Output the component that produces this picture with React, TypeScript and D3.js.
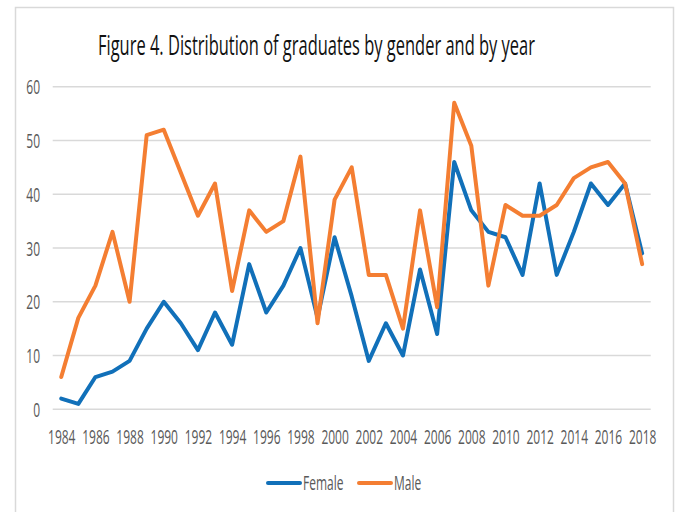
import { useRef, useEffect } from "react";
import * as d3 from "d3";

// Graduates per year
const years = [
  1984, 1985, 1986, 1987, 1988, 1989, 1990, 1991, 1992, 1993, 1994, 1995,
  1996, 1997, 1998, 1999, 2000, 2001, 2002, 2003, 2004, 2005, 2006, 2007,
  2008, 2009, 2010, 2011, 2012, 2013, 2014, 2015, 2016, 2017, 2018,
];
const female = [
  2, 1, 6, 7, 9, 15, 20, 16, 11, 18, 12, 27, 18, 23, 30, 17, 32, 21, 9, 16,
  10, 26, 14, 46, 37, 33, 32, 25, 42, 25, 33, 42, 38, 42, 29,
];
const male = [
  6, 17, 23, 33, 20, 51, 52, 44, 36, 42, 22, 37, 33, 35, 47, 16, 39, 45, 25,
  25, 15, 37, 19, 57, 49, 23, 38, 36, 36, 38, 43, 45, 46, 42, 27,
];
const yTicks = [0, 10, 20, 30, 40, 50, 60];
const xTickLabels = years.filter((y) => y % 2 === 0);

const series = [
  { name: "Female", values: female, color: "#1170B9" },
  { name: "Male", values: male, color: "#F47E32" },
];

const W = 676;
const H = 512;
const FONT = "'Open Sans', sans-serif";
// the source image is a squeezed Calibri look: narrow the glyphs, stretch them up
const SQUEEZE = "scale(0.8,1.3)";

export default function App() {
  const svgRef = useRef<SVGSVGElement>(null);

  useEffect(() => {
    if (!svgRef.current) return;
    const root = d3.select(svgRef.current);
    root.selectAll("*").remove();

    const plot = { left: 52.7, right: 650.7, top: 86.7, bottom: 409.3 };

    const x = d3.scalePoint<number>()
      .domain(years)
      .range([plot.left, plot.right])
      .padding(0.5);

    const y = d3.scaleLinear()
      .domain([0, 60])
      .range([plot.bottom, plot.top]);

    // outer frame
    root.append("rect")
      .attr("x", 15.5).attr("y", 7.5)
      .attr("width", 658).attr("height", 540)
      .attr("fill", "white")
      .attr("stroke", "#D9D9D9")
      .attr("stroke-width", 1.5);

    // title, squeezed to the width it has in the figure
    const title = root.append("text")
      .style("font-family", FONT)
      .style("font-size", "20px")
      .style("fill", "#111")
      .text("Figure 4. Distribution of graduates by gender and by year");
    const tw = (title.node() as SVGTextElement).getComputedTextLength() || 437;
    title.attr("transform", `translate(98,55) scale(${437 / tw},1.32)`);

    // gridlines
    root.append("g")
      .selectAll("line")
      .data(yTicks)
      .join("line")
      .attr("x1", plot.left).attr("x2", plot.right)
      .attr("y1", (d) => y(d)).attr("y2", (d) => y(d))
      .attr("stroke", "#D9D9D9")
      .attr("stroke-width", 1.6);

    // y axis labels
    const yAxis = root.append("g")
      .attr("transform", "translate(40,0)")
      .call(d3.axisLeft(y).tickValues(yTicks).tickSize(0).tickPadding(0));
    yAxis.select(".domain").remove();
    yAxis.selectAll("text")
      .attr("x", null).attr("y", null).attr("dy", null)
      .attr("transform", `translate(0,7) ${SQUEEZE}`)
      .attr("text-anchor", "end")
      .style("font-family", FONT)
      .style("font-size", "15px")
      .style("fill", "#595959");

    // x axis labels
    const xAxis = root.append("g")
      .call(d3.axisBottom(x).tickValues(xTickLabels).tickSize(0).tickPadding(0));
    xAxis.select(".domain").remove();
    xAxis.selectAll("text")
      .attr("y", null).attr("dy", null)
      .attr("transform", `translate(0,443.5) ${SQUEEZE}`)
      .style("font-family", FONT)
      .style("font-size", "15px")
      .style("fill", "#595959");

    // lines
    const line = d3.line<number>()
      .x((_, i) => x(years[i]) as number)
      .y((d) => y(d));

    root.append("g")
      .selectAll("path")
      .data(series)
      .join("path")
      .attr("d", (s) => line(s.values))
      .attr("fill", "none")
      .attr("stroke", (s) => s.color)
      .attr("stroke-width", 4)
      .attr("stroke-linejoin", "round")
      .attr("stroke-linecap", "round");

    // legend
    const legendPos = [268, 359];
    series.forEach((s, i) => {
      const g = root.append("g").attr("transform", `translate(${legendPos[i]},483)`);
      g.append("line")
        .attr("x1", 0).attr("x2", 32)
        .attr("stroke", s.color)
        .attr("stroke-width", 4)
        .attr("stroke-linecap", "round");
      g.append("text")
        .attr("transform", `translate(35,7) ${SQUEEZE}`)
        .style("font-family", FONT)
        .style("font-size", "15px")
        .style("fill", "#595959")
        .text(s.name);
    });
  }, []);

  return (
    <svg
      ref={svgRef}
      width={W}
      height={H}
      style={{ position: "absolute", left: 0, top: 0, background: "white" }}
    />
  );
}
